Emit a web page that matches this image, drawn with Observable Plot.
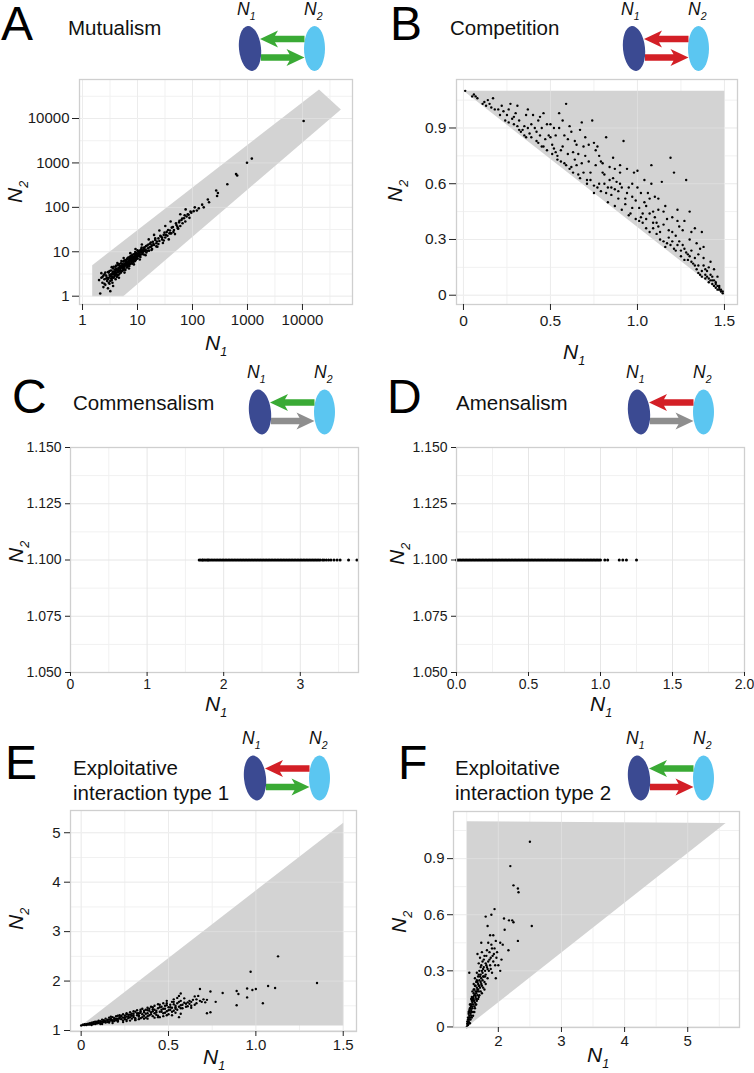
<!DOCTYPE html>
<html><head><meta charset="utf-8">
<script src="https://cdn.jsdelivr.net/npm/d3@7"></script>
<script src="https://cdn.jsdelivr.net/npm/@observablehq/plot@0.6"></script>
<style>
body{margin:0;background:#fff;}
#fig{position:relative;width:754px;height:1073px;overflow:hidden;font-family:"Liberation Sans",Arial,sans-serif;background:#fff;}
.panel{position:absolute;}
#overlay{position:absolute;left:0;top:0;}
</style></head><body><div id="fig"></div>
<script>
// ---------------- DATA ----------------
const titles = ["Mutualism","Competition","Commensalism","Amensalism",["Exploitative","interaction type 1"],["Exploitative","interaction type 2"]];
const letters = ["A","B","C","D","E","F"];

const A_ticks = [1,10,100,1000,10000];
const A_minor = [3.16,31.6,316,3162,31623];
const A_poly = [[1.5,1],[1.5,5],[20000,45000],[50000,16000],[5.5,1]];
const A_pts = [[2.0,2.3],[2.1,1.15],[2.2,2.6],[2.3,2.0],[2.4,1.6],[2.5,3.1],[2.5,2.4],[2.6,1.8],[2.7,2.9],[2.8,2.2],[2.9,3.5],[2.9,1.5],[3.0,2.6],[3.1,3.0],[3.2,1.3],[3.2,2.2],[3.3,3.8],[3.4,2.8],[3.5,3.3],[3.5,2.0],[3.6,4.2],[3.7,2.6],[3.8,3.6],[3.9,3.0],[4.0,4.6],[4.0,2.4],[4.1,3.4],[4.2,3.9],[4.3,2.9],[4.4,5.0],[4.5,3.6],[4.6,4.2],[4.7,3.2],[4.8,4.8],[4.9,3.9],[5.0,5.5],[5.0,3.4],[5.2,4.4],[5.3,5.0],[5.4,3.8],[5.5,6.0],[5.6,4.6],[5.8,5.2],[5.9,4.0],[6.0,6.5],[6.1,5.0],[6.3,5.6],[6.4,4.4],[6.5,7.0],[6.7,5.8],[6.8,4.9],[7.0,6.3],[7.2,7.6],[7.3,5.3],[7.5,6.8],[7.7,5.9],[7.9,8.2],[8.0,6.6],[8.2,7.3],[8.4,5.9],[8.6,8.8],[8.8,7.0],[9.0,7.9],[9.3,6.5],[9.5,9.4],[9.8,8.0],[10,7.1],[10.3,10.2],[10.6,8.6],[11,9.4],[11.3,7.6],[11.7,11.5],[12,9.8],[12.5,10.8],[13,8.7],[13.4,12.6],[14,11.2],[14.5,9.6],[15,13.8],[15.6,12.0],[16.2,10.6],[17,15.2],[17.7,13.0],[18.4,11.5],[19,16.8],[20,14.2],[21,18.5],[22,15.5],[23,13.0],[24,20],[25,17.5],[26.5,22],[28,19],[29,15.8],[30,24],[32,21],[34,28],[35,23],[37,19],[39,30],[41,26],[44,36],[46,31],[48,25],[51,40],[54,34],[57,46],[60,38],[63,52],[66,44],[70,57],[74,48],[78,62],[82,70],[88,58],[95,76],[105,82],[110,100],[120,85],[130,95],[150,115],[160,100],[190,150],[200,130],[270,240],[280,180],[290,210],[430,330],[620,560],[650,520],[980,1010],[1200,1250],[10500,8800],
[3.0,3.4],[3.3,2.5],[3.6,3.1],[3.9,4.0],[4.2,3.1],[4.5,4.3],[4.8,3.7],[5.1,4.6],[5.4,5.3],[5.7,4.2],[6.0,5.4],[6.3,6.2],[6.6,5.1],[6.9,6.0],[7.2,5.4],[7.6,7.2],[8.0,7.6],[8.5,6.4],[9.0,8.9],[9.6,7.6],[10.2,9.0],[10.8,7.9],[11.5,10.4],[12.2,8.9],[13,11.6],[3.1,1.9],[2.7,2.5],[2.4,2.9],[3.4,4.5],[4.3,5.6],[5.6,7.2],[7.4,9.3],[9.2,11.5],[12,14.6],[16,19],[20,24],[25,30],[32,38],[40,48],[60,70],[75,90],[2.2,3.3],[3.6,1.7],[4.6,2.6],[5.8,3.4],[7,4.2],[8.6,5.2],[11,6.7],[14,8.4],[18,11],[22,13.2],[30,18],[40,26],[55,33],
[2.3,2.7],[2.6,3.4],[2.8,2.6],[3.0,2.0],[3.1,3.7],[3.3,3.1],[3.4,2.3],[3.6,3.6],[3.7,4.6],[3.8,2.8],[4.0,3.7],[4.1,4.9],[4.2,2.7],[4.4,4.0],[4.5,3.0],[4.6,5.3],[4.7,4.4],[4.9,3.5],[5.0,4.9],[5.1,6.2],[5.2,3.7],[5.4,4.8],[5.5,4.1],[5.7,6.3],[5.8,4.6],[6.0,3.9],[6.1,5.8],[6.3,4.9],[6.5,6.7],[6.6,4.6],[6.8,7.4],[7.0,5.6],[7.1,4.8],[7.3,6.6],[7.5,8.0],[7.8,6.2],[8.0,5.4],[8.1,8.6],[8.3,6.9],[8.7,7.8],[8.9,6.1],[9.1,9.9],[9.4,8.4],[9.7,7.0],[10,10.8],[10.4,8.2],[10.9,10.0],[11.4,8.6],[11.9,12.4],[12.4,9.6],[13,12.2],[13.7,10.4],[14.3,13.4],[15,10.5],[15.8,14.6],[16.6,12.6],[17.4,16.2],[18.2,13.9],[19.5,15.2],[21,20],[22.5,17],[24,15],[26,23],[28,21],[31,27],[33,24],[36,31],[38,26],[42,35],[45,28],[50,44],[53,37],[58,50],[65,56],[72,66],[85,68],[92,80],[3.5,2.6],[3.9,3.3],[4.4,3.5],[4.9,4.3],[5.3,4.3],[5.9,5.0],[6.4,5.4],[6.9,5.2],[7.4,6.4],[7.8,7.0],[8.4,7.6],[9.0,7.2],[9.6,8.8],[10.5,9.6],[11.2,10.8],[12.8,10.2],[2.5,1.9],[2.9,2.4],[3.2,2.8],[3.8,3.3],[4.1,4.1],[4.6,3.8],[5.3,4.6],[6.2,5.3],[7.1,6.9],[8.2,6.4],[9.3,7.5]];

const B_xTicks = [0,0.5,1,1.5];
const B_xMinor = [0.25,0.75,1.25];
const B_yTicks = [0,0.3,0.6,0.9];
const B_yMinor = [0.15,0.45,0.75,1.05];
const B_poly = [[0,1.1],[1.5,1.1],[1.5,0]];
const B_pts = [[0.01,1.1],[0.05,1.07],[0.06,1.08],[0.07,1.07],[0.11,1.03],[0.14,1.05],[0.15,1.03],[0.17,1.06],[0.16,1.01],[0.22,1.02],[0.23,0.99],[0.24,0.94],[0.25,0.97],[0.27,1.03],[0.28,0.95],[0.30,0.98],[0.31,0.91],[0.33,0.88],[0.34,0.89],[0.35,0.91],[0.36,0.97],[0.37,0.9],[0.38,0.87],[0.40,0.97],[0.41,0.9],[0.42,0.88],[0.43,0.94],[0.44,0.86],[0.45,0.9],[0.46,0.98],[0.47,0.84],[0.48,0.92],[0.49,0.86],[0.50,0.85],[0.51,0.81],[0.52,0.79],[0.53,0.86],[0.54,0.73],[0.55,0.9],[0.56,0.78],[0.57,0.94],[0.58,0.71],[0.59,1.03],[0.60,0.76],[0.61,0.91],[0.62,0.69],[0.63,0.77],[0.64,0.73],[0.65,0.81],[0.66,0.65],[0.67,0.89],[0.68,0.71],[0.70,0.75],[0.71,0.62],[0.72,0.81],[0.73,0.66],[0.74,0.94],[0.75,0.55],[0.76,0.78],[0.77,0.8],[0.78,0.6],[0.80,0.71],[0.81,0.65],[0.82,0.85],[0.83,0.58],[0.84,0.69],[0.85,0.54],[0.86,0.63],[0.87,0.57],[0.88,0.61],[0.89,0.52],[0.90,0.66],[0.91,0.58],[0.92,0.83],[0.93,0.52],[0.94,0.55],[0.95,0.58],[0.96,0.44],[0.97,0.53],[0.98,0.66],[0.99,0.51],[1.00,0.67],[1.01,0.47],[1.02,0.42],[1.03,0.39],[1.04,0.5],[1.05,0.36],[1.06,0.55],[1.07,0.44],[1.08,0.7],[1.09,0.39],[1.10,0.53],[1.11,0.33],[1.12,0.46],[1.13,0.3],[1.14,0.61],[1.15,0.38],[1.16,0.26],[1.17,0.41],[1.18,0.31],[1.19,0.74],[1.20,0.34],[1.21,0.66],[1.22,0.24],[1.23,0.4],[1.24,0.29],[1.25,0.21],[1.26,0.35],[1.27,0.25],[1.28,0.62],[1.29,0.19],[1.30,0.3],[1.31,0.24],[1.32,0.17],[1.33,0.36],[1.34,0.14],[1.35,0.22],[1.36,0.11],[1.37,0.34],[1.38,0.16],[1.39,0.09],[1.40,0.13],[1.41,0.07],[1.42,0.11],[1.43,0.06],[1.44,0.08],[1.45,0.04],[1.46,0.05],[1.47,0.03],[1.48,0.02],[1.49,0.01],
[1.1,0.42],[1.12,0.37],[1.15,0.45],[1.18,0.35],[1.2,0.29],[1.22,0.32],[1.24,0.37],[1.26,0.27],[1.28,0.23],[1.3,0.21],[1.31,0.34],[1.33,0.2],[1.35,0.16],[1.36,0.25],[1.37,0.13],[1.38,0.2],[1.39,0.14],[1.4,0.1],[1.41,0.15],[1.42,0.08],[1.43,0.1],[1.44,0.05],[1.45,0.07],[1.46,0.03],[1.47,0.05],[1.48,0.03],[1.02,0.55],[1.05,0.48],[1.07,0.52],[1.09,0.45],[0.9,0.6],[0.87,0.68],[0.84,0.62],[0.82,0.55],[0.8,0.66],[0.78,0.75],[0.76,0.7],[0.72,0.72],[0.69,0.8],[0.66,0.76],[0.64,0.83],[0.6,0.84],[0.57,0.8],[0.53,0.77],[0.5,0.92],[0.46,0.8],[0.43,0.82],[0.39,0.92],[0.35,0.86],[0.32,0.94],[0.29,0.96],[0.26,1.0],[0.2,1.0],[0.12,1.04],
[0.08,1.06],[0.13,1.02],[0.18,1.0],[0.21,0.97],[0.26,0.93],[0.29,0.92],[0.32,0.89],[0.36,0.85],[0.39,0.85],[0.42,0.83],[0.45,0.8],[0.48,0.78],[0.51,0.76],[0.54,0.75],[0.56,0.72],[0.59,0.7],[0.61,0.68],[0.63,0.66],[0.65,0.7],[0.67,0.63],[0.69,0.66],[0.71,0.6],[0.73,0.62],[0.75,0.59],[0.77,0.58],[0.79,0.56],[0.81,0.6],[0.83,0.5],[0.85,0.58],[0.87,0.48],[0.89,0.56],[0.91,0.46],[0.93,0.49],[0.95,0.43],[0.97,0.47],[0.99,0.41],[1.01,0.4],[1.03,0.44],[1.05,0.41],[1.07,0.34],[1.09,0.36],[1.11,0.39],[1.13,0.34],[1.15,0.29],[1.17,0.28],[1.19,0.27],[1.21,0.25],[1.23,0.27],[1.25,0.24],[1.27,0.19],[1.29,0.22],[1.31,0.18],[1.33,0.16],[1.35,0.12],[1.37,0.1],[1.39,0.11],[1.41,0.09],[1.43,0.08],[1.45,0.06],[1.47,0.04],[1.49,0.02],[0.62,0.88],[0.7,0.85],[0.75,0.82],[0.79,0.72],[0.86,0.74],[0.9,0.7],[0.94,0.68],[0.97,0.6],[1.0,0.58],[1.04,0.62],[1.08,0.6],[1.12,0.52],[1.16,0.48],[1.2,0.42],[1.23,0.46],[1.27,0.4],[1.3,0.45],[1.34,0.28],[1.38,0.26],[1.42,0.18],[1.44,0.14],[1.46,0.1],[0.44,0.96],[0.52,0.9],[0.58,0.86],[0.68,0.93],[0.31,1.02],[0.37,1.0],[0.55,0.98]];

const C_xTicks = [0,1,2,3];
const C_xMinor = [0.5,1.5,2.5,3.5];
const CD_yTicks = [1.05,1.075,1.1,1.125,1.15];
const CD_yMinor = [1.0625,1.0875,1.1125,1.1375];
const C_y = 1.1;
const C_x = [1.68,1.70,1.72,1.73,1.75,1.77,1.79,1.80,1.82,1.84,1.86,1.88,1.90,1.92,1.94,1.96,1.98,2.00,2.02,2.04,2.06,2.08,2.10,2.12,2.14,2.16,2.18,2.20,2.22,2.24,2.26,2.28,2.30,2.32,2.34,2.36,2.38,2.40,2.42,2.44,2.46,2.48,2.50,2.52,2.54,2.56,2.58,2.60,2.62,2.64,2.66,2.68,2.70,2.72,2.74,2.76,2.78,2.80,2.82,2.84,2.86,2.88,2.90,2.92,2.94,2.96,2.98,3.00,3.02,3.04,3.06,3.08,3.10,3.12,3.14,3.16,3.18,3.20,3.22,3.24,3.26,3.29,3.31,3.34,3.37,3.40,3.44,3.48,3.52,3.63,3.74];

const D_xTicks = [0,0.5,1,1.5,2];
const D_xMinor = [0.25,0.75,1.25,1.75];
const D_y = 1.1;
const D_x = [0.00,0.01,0.02,0.03,0.04,0.05,0.06,0.07,0.08,0.09,0.10,0.11,0.12,0.13,0.14,0.15,0.16,0.17,0.18,0.19,0.20,0.21,0.22,0.23,0.24,0.25,0.26,0.27,0.28,0.29,0.30,0.31,0.32,0.33,0.34,0.35,0.36,0.37,0.38,0.39,0.40,0.41,0.42,0.43,0.44,0.45,0.46,0.47,0.48,0.49,0.50,0.51,0.52,0.53,0.54,0.55,0.56,0.57,0.58,0.59,0.60,0.61,0.62,0.63,0.64,0.65,0.66,0.67,0.68,0.69,0.70,0.71,0.72,0.73,0.74,0.75,0.76,0.77,0.78,0.79,0.80,0.81,0.82,0.83,0.84,0.85,0.86,0.87,0.88,0.89,0.90,0.91,0.92,0.93,0.94,0.95,0.96,0.97,0.98,0.99,1.00,1.03,1.05,1.13,1.155,1.18,1.25];

const E_xTicks = [0,0.5,1,1.5];
const E_xMinor = [0.25,0.75,1.25];
const E_yTicks = [1,2,3,4,5];
const E_yMinor = [1.5,2.5,3.5,4.5];
const E_poly = [[0,1.1],[1.5,5.2],[1.5,1.1]];
const E_pts = [[0.0,1.1],[0.01,1.11],[0.02,1.11],[0.02,1.12],[0.03,1.12],[0.03,1.13],[0.04,1.12],[0.04,1.14],[0.05,1.13],[0.05,1.15],[0.06,1.14],[0.06,1.16],[0.07,1.13],[0.07,1.17],[0.08,1.15],[0.08,1.18],[0.09,1.16],[0.09,1.14],[0.10,1.17],[0.10,1.2],[0.11,1.15],[0.11,1.19],[0.12,1.18],[0.12,1.22],[0.13,1.17],[0.13,1.21],[0.14,1.19],[0.14,1.24],[0.15,1.2],[0.15,1.17],[0.16,1.22],[0.16,1.26],[0.17,1.2],[0.17,1.24],[0.18,1.18],[0.18,1.27],[0.19,1.22],[0.19,1.25],[0.20,1.21],[0.20,1.29],[0.21,1.24],[0.21,1.19],[0.22,1.27],[0.22,1.31],[0.23,1.23],[0.23,1.28],[0.24,1.2],[0.24,1.33],[0.25,1.26],[0.25,1.3],[0.26,1.22],[0.26,1.35],[0.27,1.28],[0.27,1.25],[0.28,1.32],[0.28,1.37],[0.29,1.24],[0.29,1.3],[0.30,1.34],[0.30,1.27],[0.31,1.38],[0.31,1.22],[0.32,1.31],[0.32,1.41],[0.33,1.28],[0.33,1.35],[0.34,1.25],[0.34,1.39],[0.35,1.33],[0.35,1.44],[0.36,1.3],[0.36,1.37],[0.37,1.42],[0.37,1.26],[0.38,1.35],[0.38,1.46],[0.39,1.31],[0.39,1.4],[0.40,1.37],[0.40,1.48],[0.41,1.29],[0.41,1.43],[0.42,1.35],[0.42,1.5],[0.43,1.4],[0.43,1.32],[0.44,1.45],[0.44,1.53],[0.45,1.38],[0.45,1.27],[0.46,1.48],[0.46,1.42],[0.47,1.35],[0.47,1.55],[0.48,1.44],[0.48,1.5],[0.49,1.39],[0.49,1.6],[0.50,1.47],[0.50,1.33],[0.51,1.52],[0.51,1.42],[0.52,1.58],[0.52,1.46],[0.53,1.4],[0.53,1.63],[0.54,1.5],[0.54,1.44],[0.55,1.66],[0.55,1.55],[0.56,1.48],[0.56,1.7],[0.57,1.45],[0.57,1.6],[0.58,1.52],[0.59,1.65],[0.60,1.48],[0.61,1.57],[0.62,1.6],[0.63,1.5],[0.64,1.62],[0.66,1.55],[0.67,1.7],[0.69,1.58],[0.70,1.63],
[0.06,1.11],[0.11,1.13],[0.16,1.16],[0.21,1.18],[0.26,1.19],[0.31,1.21],[0.36,1.24],[0.42,1.26],[0.47,1.29],[0.52,1.31],[0.57,1.34],
[0.01,1.12],[0.02,1.13],[0.03,1.11],[0.04,1.13],[0.05,1.12],[0.06,1.13],[0.07,1.15],[0.08,1.13],[0.09,1.18],[0.10,1.15],[0.11,1.17],[0.12,1.15],[0.13,1.19],[0.14,1.16],[0.15,1.22],[0.16,1.18],[0.17,1.22],[0.18,1.21],[0.19,1.19],[0.20,1.24],[0.21,1.21],[0.22,1.24],[0.23,1.3],[0.24,1.26],[0.25,1.23],[0.26,1.28],[0.27,1.32],[0.28,1.27],[0.29,1.34],[0.30,1.3],[0.31,1.25],[0.32,1.35],[0.33,1.31],[0.34,1.36],[0.35,1.27],[0.36,1.4],[0.37,1.34],[0.38,1.29],[0.39,1.44],[0.40,1.33],[0.41,1.39],[0.42,1.42],[0.43,1.37],[0.44,1.3],[0.45,1.47],[0.46,1.38],[0.47,1.44],[0.48,1.36],[0.49,1.51],[0.50,1.41],[0.51,1.47],[0.52,1.38],[0.53,1.53],[0.54,1.47],[0.55,1.42],[0.56,1.58],[0.57,1.51],[0.58,1.45],[0.59,1.56],[0.60,1.54],[0.61,1.49],[0.62,1.54],[0.63,1.58],[0.65,1.52],[0.66,1.63],[0.68,1.6],[0.72,1.62],[0.12,1.13],[0.18,1.15],[0.24,1.17],[0.28,1.2],[0.33,1.23],[0.38,1.24],[0.44,1.27],[0.49,1.31],[0.54,1.36],[0.17,1.28],[0.21,1.3],[0.26,1.33],[0.3,1.39],[0.34,1.42],[0.38,1.41],[0.41,1.47],[0.45,1.52],[0.49,1.55],[0.53,1.58],
[1.127,2.5],[0.97,2.19],[1.35,1.96],[1.07,1.9],[1.11,1.86],[1.0,1.84],[0.98,1.82],[0.95,1.85],[0.89,1.8],[0.9,1.74],[0.95,1.67],[1.04,1.55],[0.89,1.51],[0.81,1.76],[0.74,1.79],[0.68,1.84],[0.77,1.58],[0.74,1.37],[0.72,1.35],[0.71,1.57],[0.65,1.69],[0.63,1.46],[0.57,1.75],[0.56,1.27]];

const F_xTicks = [2,3,4,5];
const F_xMinor = [1.5,2.5,3.5,4.5,5.5];
const F_yTicks = [0,0.3,0.6,0.9];
const F_yMinor = [0.15,0.45,0.75,1.05];
const F_poly = [[1.5,0],[1.5,1.1],[5.6,1.09]];
const F_pts = [[1.5,0.0],[1.51,0.01],[1.51,0.02],[1.52,0.02],[1.52,0.04],[1.53,0.03],[1.53,0.05],[1.54,0.06],[1.54,0.04],[1.55,0.08],[1.55,0.05],[1.56,0.07],[1.56,0.1],[1.57,0.09],[1.57,0.12],[1.58,0.08],[1.58,0.11],[1.58,0.14],[1.59,0.1],[1.59,0.13],[1.6,0.16],[1.6,0.12],[1.61,0.15],[1.61,0.18],[1.62,0.11],[1.62,0.14],[1.62,0.2],[1.63,0.17],[1.63,0.13],[1.64,0.19],[1.64,0.22],[1.65,0.15],[1.65,0.18],[1.66,0.21],[1.66,0.25],[1.67,0.17],[1.67,0.2],[1.68,0.23],[1.68,0.27],[1.69,0.19],[1.69,0.22],[1.7,0.25],[1.7,0.3],[1.71,0.21],[1.72,0.24],[1.72,0.28],[1.73,0.26],[1.73,0.33],[1.74,0.22],[1.75,0.29],[1.75,0.25],[1.76,0.31],[1.77,0.27],[1.77,0.36],[1.78,0.24],[1.79,0.3],[1.8,0.34],[1.8,0.28],[1.81,0.38],[1.82,0.32],[1.83,0.26],[1.84,0.35],[1.85,0.3],[1.86,0.4],[1.87,0.33],[1.88,0.37],[1.9,0.29],[1.9,0.42],[1.92,0.35],[1.93,0.39],[1.95,0.33],[1.97,0.37],[2.0,0.33],[1.55,0.02],[1.57,0.06],[1.6,0.08],[1.63,0.1],[1.65,0.12],[1.68,0.15],[1.7,0.17],[1.72,0.19],[1.74,0.18],[1.76,0.21],[1.78,0.2],[1.8,0.23],[1.53,0.08],[1.55,0.12],[1.57,0.15],[1.59,0.19],[1.61,0.23],[1.63,0.26],[1.66,0.29],[1.69,0.34],[1.71,0.37],[1.74,0.4],
[1.51,0.03],[1.52,0.05],[1.53,0.07],[1.54,0.09],[1.55,0.1],[1.56,0.12],[1.57,0.11],[1.58,0.16],[1.59,0.15],[1.6,0.14],[1.61,0.2],[1.62,0.17],[1.63,0.22],[1.64,0.16],[1.65,0.24],[1.66,0.19],[1.67,0.24],[1.68,0.2],[1.69,0.28],[1.7,0.22],[1.71,0.27],[1.72,0.32],[1.73,0.23],[1.74,0.3],[1.75,0.35],[1.76,0.27],[1.77,0.32],[1.78,0.38],[1.79,0.27],[1.81,0.33],[1.82,0.41],[1.83,0.31],[1.84,0.45],[1.86,0.36],[1.88,0.31],[1.89,0.44],[1.91,0.38],[1.94,0.42],[1.98,0.4],[1.52,0.01],[1.54,0.02],[1.56,0.04],[1.58,0.05],[1.6,0.06],[1.62,0.08],[1.64,0.12],[1.66,0.14],[1.69,0.16],
[2.5,0.99],[2.19,0.86],[2.24,0.757],[2.31,0.74],[2.32,0.72],[1.94,0.63],[1.89,0.6],[1.8,0.59],[2.09,0.58],[2.17,0.57],[2.22,0.57],[2.24,0.56],[2.53,0.54],[1.83,0.54],[2.1,0.52],[1.87,0.49],[1.92,0.49],[2.31,0.46],[1.96,0.46],[1.73,0.45],[2.03,0.45],[2.07,0.44],[2.16,0.41],[1.67,0.39],[2.05,0.36],[1.96,0.26],[2.03,0.3],[1.54,0.29]];

// ---------------- STYLE ----------------
const COL = {blue1:"#3b4a92", blue2:"#5bc6f1", green:"#3aaa35", red:"#d31f26", grey:"#8e8e8e", fill:"#d3d3d3"};
const fig = document.getElementById("fig");
const toPts = a => a.map(([x,y]) => ({x,y}));
const f1 = d => d === 0 ? "0" : d.toFixed(1);

function panel(c) {
  const marks = [
    Plot.gridX(c.xMinor, {stroke:"#f1f1f1", strokeOpacity:1}),
    Plot.gridY(c.yMinor, {stroke:"#f1f1f1", strokeOpacity:1}),
    Plot.gridX(c.xTicks, {stroke:"#e6e6e6", strokeOpacity:1}),
    Plot.gridY(c.yTicks, {stroke:"#e6e6e6", strokeOpacity:1})
  ];
  if (c.poly) marks.push(Plot.line(toPts(c.poly), {x:"x", y:"y", fill:COL.fill, stroke:"none", curve:"linear-closed"}));
  if (c.poly) marks.push(Plot.gridX(c.xTicks, {stroke:"#fff", strokeOpacity:0.25}), Plot.gridY(c.yTicks, {stroke:"#fff", strokeOpacity:0.25}));
  marks.push(Plot.dot(c.pts, {x:"x", y:"y", r:c.r, fill:"#000", stroke:"none"}));
  marks.push(Plot.frame({stroke:"#cfcfcf", strokeWidth:1.3}));
  marks.push(Plot.axisX(c.xTicks, {tickFormat:c.xFmt, tickSize:c.xts, tickPadding:c.xtp, stroke:"#222", label:null, fill:"#1a1a1a"}));
  marks.push(Plot.axisY(c.yTicks, {tickFormat:c.yFmt, tickSize:c.yts, tickPadding:c.ytp, stroke:"#222", label:null, fill:"#1a1a1a"}));
  const p = Plot.plot({
    width:c.w, height:c.h,
    marginLeft:c.mL, marginRight:c.mR, marginTop:c.mT, marginBottom:c.mB,
    x:{type:c.xType||"linear", domain:c.xd},
    y:{type:c.yType||"linear", domain:c.yd},
    style:{fontFamily:"'Liberation Sans', Arial, sans-serif", fontSize:c.fs+"px", background:"transparent", overflow:"visible"},
    marks
  });
  const d = document.createElement("div");
  d.className = "panel";
  d.style.left = c.left+"px"; d.style.top = c.top+"px";
  d.appendChild(p);
  fig.appendChild(d);
}

panel({left:0, top:70, w:377, h:290, mL:79, mR:25, mT:9, mB:56, xType:"log", yType:"log",
  xd:[0.881,81300], yd:[0.65,75500], xTicks:A_ticks, yTicks:A_ticks, xMinor:A_minor, yMinor:A_minor,
  xFmt:d=>String(d), yFmt:d=>String(d), poly:A_poly, pts:toPts(A_pts), r:1.3, fs:15, xts:6, xtp:4, yts:7, ytp:3});
panel({left:377, top:70, w:377, h:290, mL:79, mR:17, mT:9, mB:56,
  xd:[-0.04,1.575], yd:[-0.05,1.161], xTicks:B_xTicks, yTicks:B_yTicks, xMinor:B_xMinor, yMinor:B_yMinor,
  xFmt:f1, yFmt:f1, poly:B_poly, pts:toPts(B_pts), r:1.2, fs:15.5, xts:6, xtp:4, yts:7, ytp:3});
panel({left:0, top:420, w:377, h:300, mL:70, mR:19, mT:27, mB:48,
  xd:[0,3.76], yd:[1.05,1.15], xTicks:C_xTicks, yTicks:CD_yTicks, xMinor:C_xMinor, yMinor:CD_yMinor,
  xFmt:d=>String(d), yFmt:d=>d.toFixed(3), poly:null, pts:C_x.map(x=>({x, y:C_y})), r:1.5, fs:14, xts:4, xtp:3, yts:5, ytp:4});
panel({left:377, top:420, w:377, h:300, mL:79, mR:10, mT:27, mB:48,
  xd:[0,2], yd:[1.05,1.15], xTicks:D_xTicks, yTicks:CD_yTicks, xMinor:D_xMinor, yMinor:CD_yMinor,
  xFmt:d=>d.toFixed(1), yFmt:d=>d.toFixed(3), poly:null, pts:D_x.map(x=>({x, y:D_y})), r:1.5, fs:14, xts:4, xtp:3, yts:5, ytp:4});
panel({left:0, top:790, w:377, h:283, mL:70, mR:21, mT:20, mB:42,
  xd:[-0.061,1.576], yd:[0.98,5.45], xTicks:E_xTicks, yTicks:E_yTicks, xMinor:E_xMinor, yMinor:E_yMinor,
  xFmt:f1, yFmt:d=>String(d), poly:E_poly, pts:toPts(E_pts), r:1.2, fs:15, xts:5, xtp:3, yts:6, ytp:4});
panel({left:377, top:790, w:377, h:283, mL:76, mR:15, mT:21, mB:46,
  xd:[1.29,5.82], yd:[-0.003,1.152], xTicks:F_xTicks, yTicks:F_yTicks, xMinor:F_xMinor, yMinor:F_yMinor,
  xFmt:d=>String(d), yFmt:f1, poly:F_poly, pts:toPts(F_pts), r:1.2, fs:15, xts:5, xtp:3, yts:6, ytp:3});

// ---------------- OVERLAY: letters, titles, icons, axis titles ----------------
const svg = d3.select(fig).append("svg").attr("id","overlay").attr("width",754).attr("height",1073)
  .style("font-family","'Liberation Sans', Arial, sans-serif");

const letterPos = [[1,40],[390,40],[12,413],[387,413],[5,779],[398,779]];
letters.forEach((L,i)=> svg.append("text").attr("x",letterPos[i][0]).attr("y",letterPos[i][1])
  .attr("font-size",48).attr("fill","#000").text(L));

const titlePos = [[68,35],[450,35],[73,410],[456,410],[73,775],[455,775]];
titles.forEach((t,i)=>{
  const lines = Array.isArray(t) ? t : [t];
  lines.forEach((s,j)=> svg.append("text").attr("x",titlePos[i][0]).attr("y",titlePos[i][1]+j*24.5)
    .attr("font-size",20.5).attr("fill","#111").text(s));
});

function nText(x, y, sub, size, rot) {
  const t = svg.append("text").attr("font-style","italic").attr("fill","#111")
    .attr("transform", `translate(${x},${y})` + (rot ? " rotate(-90)" : ""));
  t.append("tspan").attr("font-size",size).text("N");
  t.append("tspan").attr("font-size",size*0.6).attr("dy",size*0.3).text(sub);
}

// icons: [N1 center x, center y, top arrow colour, bottom arrow colour]
const icons = [[250,48.5,COL.green,COL.green],[634,48.5,COL.red,COL.red],[260,412,COL.green,COL.grey],
  [639,412,COL.red,COL.grey],[255,778,COL.red,COL.green],[639,778,COL.green,COL.red]];
icons.forEach(([c1,cy,topC,botC])=>{
  const c2 = c1 + 64.5;
  svg.append("ellipse").attr("cx",c1).attr("cy",cy).attr("rx",11).attr("ry",22.5).attr("fill",COL.blue1)
    .attr("transform",`rotate(-6 ${c1} ${cy})`);
  svg.append("ellipse").attr("cx",c2).attr("cy",cy).attr("rx",10.5).attr("ry",22.5).attr("fill",COL.blue2);
  let y = cy - 9.5, tip = c1 + 10, tail = c2 - 10;
  svg.append("path").attr("fill",topC).attr("d",
    `M${tip},${y} L${tip+18},${y-8.5} L${tip+15},${y-3.2} L${tail},${y-3.2} L${tail},${y+3.2} L${tip+15},${y+3.2} L${tip+18},${y+8.5} Z`);
  y = cy + 9; tip = c2 - 10; tail = c1 + 11;
  svg.append("path").attr("fill",botC).attr("d",
    `M${tip},${y} L${tip-18},${y-8.5} L${tip-15},${y-3.2} L${tail},${y-3.2} L${tail},${y+3.2} L${tip-15},${y+3.2} L${tip-18},${y+8.5} Z`);
  nText(c1-13, cy-34, "1", 17.5, false);
  nText(c2-10.5, cy-34, "2", 17.5, false);
});

// axis titles
const xTitles = [[205,350],[563,359],[205,711],[590,711],[203,1064],[587,1062]];
xTitles.forEach(([x,y])=> nText(x,y,"1",21,false));
const yTitles = [[22,203],[402,202],[23,563],[404,565],[23,930],[406,933]];
yTitles.forEach(([x,y])=> nText(x,y,"2",21,true));
</script></body></html>
